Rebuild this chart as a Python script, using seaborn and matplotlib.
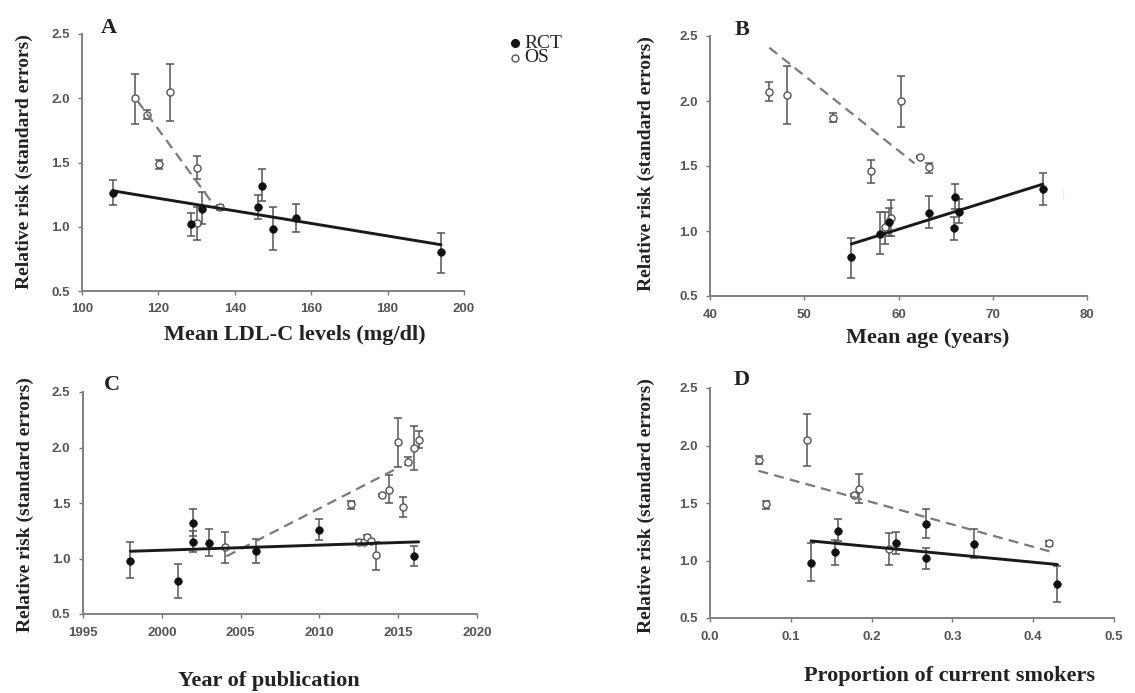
import numpy as np
import pandas as pd
import seaborn as sns
import matplotlib.pyplot as plt
from matplotlib.lines import Line2D

sns.set_theme(style="ticks")
plt.rcParams['font.family'] = ['Liberation Serif', 'DejaVu Serif']

nan = np.nan

# RCT studies: relative risk with its standard-error band
rct_rr = [0.98, 0.80, 1.32, 1.15, 1.14, 1.07, 1.26, 1.02]
rct_lo = [0.82, 0.64, 1.20, 1.06, 1.02, 0.96, 1.17, 0.93]
rct_hi = [1.15, 0.95, 1.45, 1.25, 1.27, 1.18, 1.36, 1.11]
rct_ldl = [150, 194, 147, 146, 131.5, 156, 108, 128.5]
rct_age = [58.0, 55.0, 75.3, 66.4, 63.2, 59.0, 66.0, 65.9]
rct_year = [1998, 2001, 2002, 2002, 2003, 2006, 2010, 2016]
rct_smokers = [0.125, 0.43, 0.267, 0.23, 0.327, 0.155, 0.158, 0.267]

# Observational studies (nan = not shown in that panel)
os_rr = [2.07, 2.05, 1.87, 2.00, 1.49, 1.46, 1.57, 1.62, 1.10, 1.03, 1.15, 1.15, 1.19, 1.16]
os_lo = [2.00, 1.82, 1.84, 1.80, 1.45, 1.37, 1.56, 1.50, 0.96, 0.90, 1.13, 1.13, 1.17, 1.14]
os_hi = [2.15, 2.27, 1.91, 2.19, 1.52, 1.55, 1.58, 1.75, 1.24, 1.15, 1.17, 1.17, 1.21, 1.18]
os_ldl = [nan, 123, 117, 114, 120.2, 130, nan, nan, nan, 130, 136, nan, nan, nan]
os_age = [46.3, 48.2, 53.0, 60.3, 63.2, 57.1, 62.3, nan, 59.2, 58.6, nan, nan, nan, nan]
os_year = [2016.3, 2015.0, 2015.6, 2016.0, 2012.0, 2015.3, 2014.0, 2014.4, 2004.0,
           2013.6, 2012.5, 2012.8, 2013.0, 2013.3]
os_smokers = [nan, 0.120, 0.061, nan, 0.069, nan, 0.178, 0.185, 0.222, nan, 0.42, nan, nan, nan]

# meta-regression lines (end points)
fitA_rct = ([108, 194], [1.28, 0.86])
fitA_os = ([114.5, 135.5], [1.98, 1.13])
fitB_rct = ([55, 75.3], [0.90, 1.36])
fitB_os = ([46.3, 61.7], [2.41, 1.52])
fitC_rct = ([1998, 2016.3], [1.065, 1.15])
fitC_os = ([2004.1, 2014.9], [1.02, 1.81])
fitD_rct = ([0.125, 0.43], [1.17, 0.965])
fitD_os = ([0.06, 0.42], [1.78, 1.08])

# stray whisker right of panel B
strayB = ([77.5, 77.5], [1.24, 1.33])

W, H = 1135, 693
fig = plt.figure(figsize=(W / 100, H / 100), dpi=100)


def box(l, t, r, b):
    return [l / W, 1 - b / H, (r - l) / W, (b - t) / H]


def px(x, y):
    return x / W, 1 - y / H


def draw_panel(ax, rct_x, os_x, fit_rct, fit_os, xlim, xticks, fmt):
    rct = pd.DataFrame({'x': rct_x, 'rr': rct_rr, 'lo': rct_lo, 'hi': rct_hi}).dropna()
    obs = pd.DataFrame({'x': os_x, 'rr': os_rr, 'lo': os_lo, 'hi': os_hi}).dropna()

    for df in (obs, rct):
        ax.errorbar(df.x, df.rr, yerr=[df.rr - df.lo, df.hi - df.rr], fmt='none',
                    ecolor='#555555', elinewidth=1.1, capsize=3, capthick=1.1, zorder=2)

    sns.scatterplot(data=obs, x='x', y='rr', ax=ax, marker='o', s=26, color='white',
                    edgecolor='#555555', linewidth=1.0, zorder=3)
    sns.lineplot(x=fit_os[0], y=fit_os[1], ax=ax, color='#7a7a7a', linewidth=1.6,
                 linestyle=(0, (4.5, 2.8)), zorder=4)
    sns.lineplot(x=fit_rct[0], y=fit_rct[1], ax=ax, color='#1a1a1a', linewidth=2.1, zorder=4)
    sns.scatterplot(data=rct, x='x', y='rr', ax=ax, marker='o', s=30, color='#111111',
                    edgecolor='#111111', linewidth=0.5, zorder=5)

    ax.set_xlim(*xlim)
    ax.set_ylim(0.5, 2.5)
    ax.set_xticks(xticks, [fmt.format(v) for v in xticks],
                  fontfamily='Liberation Sans', fontweight='bold')
    yt = [0.5, 1.0, 1.5, 2.0, 2.5]
    ax.set_yticks(yt, ['{:.1f}'.format(v) for v in yt],
                  fontfamily='Liberation Sans', fontweight='bold')
    ax.tick_params(direction='out', length=3, width=1, color='#777777',
                   labelsize=9.5, labelcolor='#555555')
    ax.tick_params(axis='y', pad=6)
    ax.tick_params(axis='x', pad=6)
    ax.set_xlabel('')
    ax.set_ylabel('')
    sns.despine(ax=ax)
    for s in ('left', 'bottom'):
        ax.spines[s].set_color('#808080')
        ax.spines[s].set_linewidth(1.4)


axA = fig.add_axes(box(82, 34, 464, 291))
axB = fig.add_axes(box(710, 36, 1087, 296))
axC = fig.add_axes(box(83, 392, 477, 614))
axD = fig.add_axes(box(710, 388, 1114, 618))

draw_panel(axA, rct_ldl, os_ldl, fitA_rct, fitA_os, (100, 200), [100, 120, 140, 160, 180, 200], '{:.0f}')
draw_panel(axB, rct_age, os_age, fitB_rct, fitB_os, (40, 80), [40, 50, 60, 70, 80], '{:.0f}')
draw_panel(axC, rct_year, os_year, fitC_rct, fitC_os, (1995, 2020),
           [1995, 2000, 2005, 2010, 2015, 2020], '{:.0f}')
draw_panel(axD, rct_smokers, os_smokers, fitD_rct, fitD_os, (0, 0.5),
           [0.0, 0.1, 0.2, 0.3, 0.4, 0.5], '{:.1f}')
sns.lineplot(x=strayB[0], y=strayB[1], ax=axB, color='#aaaaaa', linewidth=1.0)

# axis titles
lab = dict(fontsize=16, fontweight='bold', color='#222222', ha='center', va='center')
ylab = dict(fontsize=14, fontweight='bold', color='#222222', ha='center', va='center', rotation=90)
fig.text(*px(295, 335), 'Mean LDL-C levels (mg/dl)', **lab)
fig.text(*px(928, 338), 'Mean age (years)', **lab)
fig.text(*px(269, 681), 'Year of publication', **lab)
fig.text(*px(950, 676), 'Proportion of current smokers', **lab)
for x, y in [(24, 162), (646, 164), (25, 505), (646, 506)]:
    fig.text(*px(x, y), 'Relative risk (standard errors)', **ylab)

# panel letters
for (x, y), t in zip([(109, 28), (742, 30), (112, 385), (742, 380)], 'ABCD'):
    fig.text(*px(x, y), t, fontsize=16, fontweight='bold', color='#222222', ha='center', va='center')

# key: marker + label, two rows
key_labels = ['RCT', 'OS']
key_rows = [43, 58]
key_styles = [dict(color='#111111', markersize=5.5),
              dict(markerfacecolor='white', markeredgecolor='#555555', markersize=5)]
for name, y, st in zip(key_labels, key_rows, key_styles):
    fig.add_artist(Line2D([515 / W], [1 - y / H], transform=fig.transFigure,
                          marker='o', ls='none', **st))
    fig.text(*px(524, y), name, fontsize=14, color='#222222', ha='left', va='center')

fig.savefig('out.png', dpi=100, facecolor='white')
